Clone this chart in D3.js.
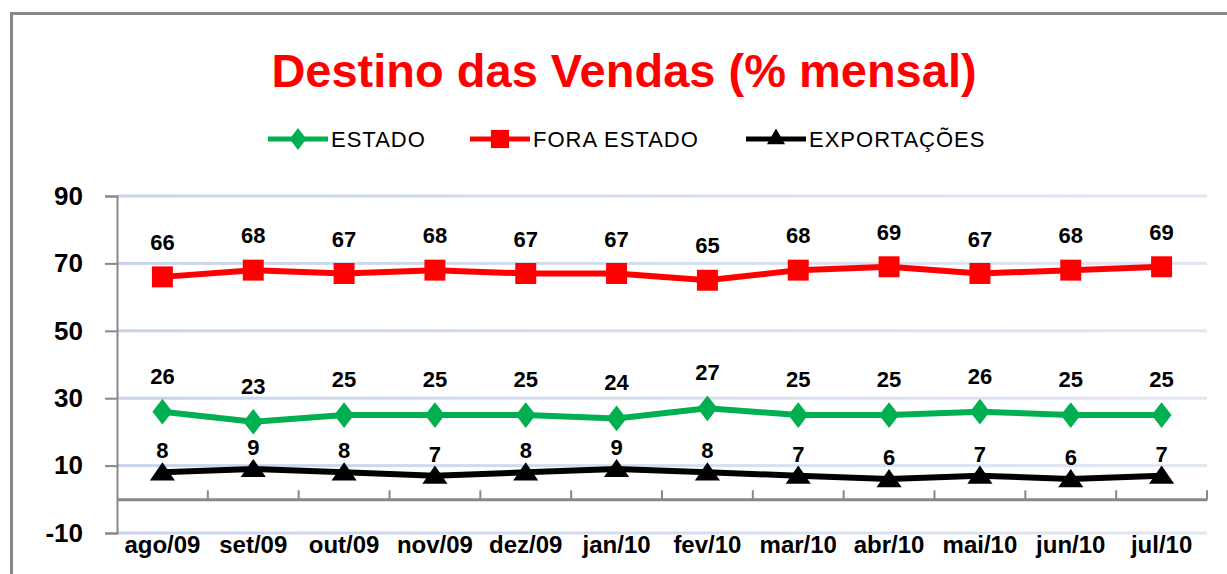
<!DOCTYPE html>
<html>
<head>
<meta charset="utf-8">
<script src="https://cdn.jsdelivr.net/npm/d3@7"></script>
<style>
  body { margin: 0; background: #fff; }
  text { font-family: "Liberation Sans", Arial, sans-serif; }
</style>
</head>
<body>
<div id="chart"></div>
<script>
// data
var months = ['ago/09', 'set/09', 'out/09', 'nov/09', 'dez/09', 'jan/10', 'fev/10', 'mar/10', 'abr/10', 'mai/10', 'jun/10', 'jul/10'];
var estado = [26, 23, 25, 25, 25, 24, 27, 25, 25, 26, 25, 25];
var foraEstado = [66, 68, 67, 68, 67, 67, 65, 68, 69, 67, 68, 69];
var exportacoes = [8, 9, 8, 7, 8, 9, 8, 7, 6, 7, 6, 7];
var yTicks = [-10, 10, 30, 50, 70, 90];

var series = [
	{ name: 'ESTADO', values: estado, color: '#00b050', symbol: d3.symbolDiamond, size: 190, labelOff: 28 },
	{ name: 'FORA ESTADO', values: foraEstado, color: '#ff0000', symbol: d3.symbolSquare, size: 440, labelOff: 27 },
	{ name: 'EXPORTAÇÕES', values: exportacoes, color: '#000000', symbol: d3.symbolTriangle, size: 190, labelOff: 14 }
];

var width = 1227, height = 574;

var svg = d3.select('#chart')
	.append('svg')
	.attr('width', width)
	.attr('height', height);

// outer frame (only left and top visible)
svg.append('path')
	.attr('d', 'M11.5,' + height + 'V13.5H' + width)
	.attr('fill', 'none')
	.attr('stroke', '#888')
	.attr('stroke-width', 3);

var x = d3.scaleBand().domain(months).range([117, 1207]);
var y = d3.scaleLinear().domain([-10, 90]).range([533, 196]);

// grid gradient
var grad = svg.append('defs').append('linearGradient')
	.attr('id', 'gridgrad')
	.attr('x1', '0%').attr('x2', '100%');
grad.append('stop').attr('offset', '0%').attr('stop-color', '#c9d4ec');
grad.append('stop').attr('offset', '100%').attr('stop-color', '#e1e7f2');

svg.append('g')
	.selectAll('rect')
	.data(yTicks)
	.enter()
	.append('rect')
	.attr('x', 117)
	.attr('y', function(d) { return y(d) - 1.5; })
	.attr('width', 1090)
	.attr('height', 3)
	.attr('fill', 'url(#gridgrad)');

// y axis
var yAxis = svg.append('g')
	.attr('transform', 'translate(117,0)')
	.call(d3.axisLeft(y).tickValues(yTicks).tickSize(12).tickPadding(22).tickFormat(function(d) { return String(d); }));
yAxis.select('.domain').attr('stroke', '#888').attr('stroke-width', 2);
yAxis.selectAll('.tick line').attr('stroke', '#888').attr('stroke-width', 2);
yAxis.selectAll('.tick text')
	.attr('font-size', 26)
	.attr('font-weight', 'bold')
	.attr('fill', '#000')
	.attr('font-family', '"Liberation Sans", Arial, sans-serif');

// x axis at zero
var xAxis = svg.append('g')
	.attr('transform', 'translate(0,' + y(0) + ')')
	.call(d3.axisBottom(x).tickSize(0).tickFormat(''));
xAxis.select('.domain').attr('stroke', '#888').attr('stroke-width', 3);

svg.append('g')
	.selectAll('line')
	.data(months)
	.enter()
	.append('line')
	.attr('x1', function(d) { return x(d) + x.bandwidth(); })
	.attr('x2', function(d) { return x(d) + x.bandwidth(); })
	.attr('y1', y(0))
	.attr('y2', y(0) - 9)
	.attr('stroke', '#888')
	.attr('stroke-width', 2);

// month labels
svg.append('g')
	.selectAll('text')
	.data(months)
	.enter()
	.append('text')
	.attr('x', function(d) { return x(d) + x.bandwidth() / 2; })
	.attr('y', 553)
	.attr('text-anchor', 'middle')
	.attr('font-size', 24)
	.attr('font-weight', 'bold')
	.text(function(d) { return d; });

var line = d3.line()
	.x(function(d, i) { return x(months[i]) + x.bandwidth() / 2; })
	.y(function(d) { return y(d); });

series.forEach(function(s) {
	var g = svg.append('g');
	g.append('path')
		.attr('d', line(s.values))
		.attr('fill', 'none')
		.attr('stroke', s.color)
		.attr('stroke-width', 6);

	g.selectAll('.mark')
		.data(s.values)
		.enter()
		.append('path')
		.attr('class', 'mark')
		.attr('d', d3.symbol().type(s.symbol).size(s.size))
		.attr('transform', function(d, i) {
			var sy = s.symbol === d3.symbolDiamond ? 'scale(1.35,1)' : '';
			if (s.symbol === d3.symbolTriangle) sy = 'translate(0,2)scale(1.2,1)';
			return 'translate(' + (x(months[i]) + x.bandwidth() / 2) + ',' + y(d) + ')' + sy;
		})
		.attr('fill', s.color);

	g.selectAll('.lbl')
		.data(s.values)
		.enter()
		.append('text')
		.attr('class', 'lbl')
		.attr('x', function(d, i) { return x(months[i]) + x.bandwidth() / 2; })
		.attr('y', function(d) { return y(d) - s.labelOff; })
		.attr('text-anchor', 'middle')
		.attr('font-size', 22)
		.attr('font-weight', 'bold')
		.text(function(d) { return d; });
});

// title
svg.append('text')
	.attr('x', 624)
	.attr('y', 87)
	.attr('text-anchor', 'middle')
	.attr('font-size', 47)
	.attr('font-weight', 'bold')
	.attr('fill', '#ff0000')
	.text('Destino das Vendas (% mensal)');

// legend
var legendX = [268, 470, 746];
var legend = svg.append('g');
series.forEach(function(s, i) {
	var lg = legend.append('g').attr('transform', 'translate(' + legendX[i] + ',139)');
	lg.append('line')
		.attr('x1', 0).attr('x2', 60)
		.attr('stroke', s.color)
		.attr('stroke-width', 5);
	lg.append('path')
		.attr('d', d3.symbol().type(s.symbol).size(s.size * 0.75))
		.attr('transform', 'translate(30,0)' + (s.symbol === d3.symbolDiamond ? 'scale(1.3,1)' : ''))
		.attr('fill', s.color);
	lg.append('text')
		.attr('x', 63)
		.attr('y', 8)
		.attr('font-size', 22)
		.attr('letter-spacing', 1)
		.text(s.name);
});
</script>
</body>
</html>
